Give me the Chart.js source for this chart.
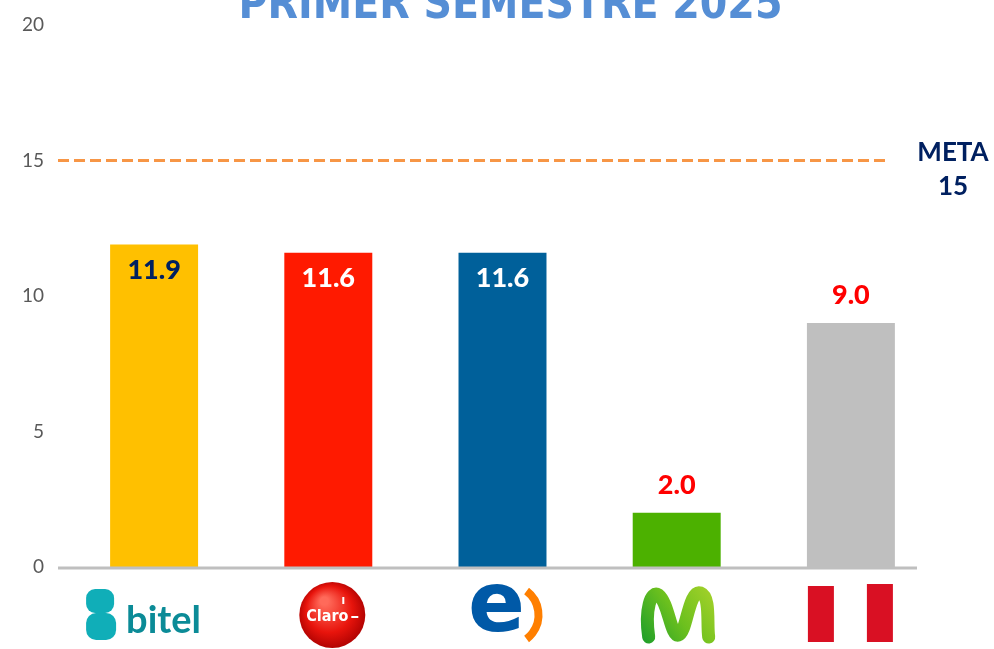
<!DOCTYPE html>
<html lang="es">
<head>
    <meta charset="UTF-8">
    <title>Primer semestre 2025</title>
    <script src="https://cdn.jsdelivr.net/npm/chart.js"></script>
    <style>
        html, body {
            margin: 0;
            padding: 0;
            background: #ffffff;
        }
        canvas {
            display: block;
        }
    </style>
</head>
<body>
    <canvas id="metaChart" width="994" height="649"></canvas>
    <script>
        // data
        const operators = ['bitel', 'Claro', 'entel', 'movistar', 'Perú'];
        const values = [11.9, 11.6, 11.6, 2.0, 9.0];
        const yTicks = [0, 5, 10, 15, 20];
        const metaValue = 15;
        const chartTitle = 'PRIMER SEMESTRE 2025';

        const barColors = ['#FFC000', '#FF1A00', '#00609A', '#4CB100', '#BFBFBF'];
        const labelColors = ['#002060', '#FFFFFF', '#FFFFFF', '#FF0000', '#FF0000'];
        const labelInside = [true, true, true, false, false];

        // title (cut at the top like the original), meta line, value labels
        const decorations = {
            id: 'decorations',
            afterDatasetsDraw(chart) {
                const ctx = chart.ctx;
                const area = chart.chartArea;
                const x = chart.scales.x;
                const y = chart.scales.y;
                ctx.save();

                // baseline
                ctx.strokeStyle = '#BFBFBF';
                ctx.lineWidth = 3;
                ctx.beginPath();
                ctx.moveTo(area.left - 9, y.getPixelForValue(0) + 1);
                ctx.lineTo(area.right - 21, y.getPixelForValue(0) + 1);
                ctx.stroke();

                // meta line
                const ym = y.getPixelForValue(metaValue);
                ctx.strokeStyle = '#F79646';
                ctx.lineWidth = 3;
                ctx.setLineDash([11, 5]);
                ctx.beginPath();
                ctx.moveTo(area.left - 9, ym);
                ctx.lineTo(area.right - 51, ym);
                ctx.stroke();
                ctx.setLineDash([]);

                ctx.fillStyle = '#002060';
                ctx.font = 'bold 26px Lato, sans-serif';
                ctx.textAlign = 'center';
                ctx.textBaseline = 'middle';
                ctx.fillText('META', area.right + 15, ym - 8);
                ctx.fillText(String(metaValue), area.right + 15, ym + 26);

                // values
                ctx.font = '900 27px Lato, sans-serif';
                values.forEach((v, i) => {
                    const px = x.getPixelForValue(i);
                    const py = y.getPixelForValue(v);
                    ctx.fillStyle = labelColors[i];
                    ctx.fillText(v.toFixed(1), px, labelInside[i] ? py + 26 : py - 28);
                });

                // title
                ctx.fillStyle = '#558ED5';
                ctx.font = 'bold 44px "Liberation Sans Narrow", "DejaVu Sans Condensed", sans-serif';
                ctx.textBaseline = 'alphabetic';
                ctx.fillText(chartTitle, (area.left + area.right) / 2 + 8, 18);

                ctx.restore();
            }
        };

        // simple drawn logos under each category
        const logos = {
            id: 'logos',
            afterDraw(chart) {
                const ctx = chart.ctx;
                const x = chart.scales.x;
                const cy = 615;
                ctx.save();

                // bitel
                let cx = x.getPixelForValue(0);
                ctx.fillStyle = '#10AEB8';
                roundRect(ctx, cx - 68, cy - 26, 28, 24, 9);
                roundRect(ctx, cx - 68, cy - 2, 30, 27, 10);
                ctx.fillStyle = '#0B8B97';
                ctx.font = 'bold 38px Lato, sans-serif';
                ctx.textAlign = 'left';
                ctx.textBaseline = 'alphabetic';
                ctx.fillText('bitel', cx - 28, cy + 18);

                // Claro
                cx = x.getPixelForValue(1) + 4;
                const g = ctx.createRadialGradient(cx - 8, cy - 14, 4, cx, cy, 36);
                g.addColorStop(0, '#FF6A5A');
                g.addColorStop(0.6, '#E8140C');
                g.addColorStop(1, '#A80000');
                ctx.fillStyle = g;
                ctx.beginPath();
                ctx.ellipse(cx, cy, 33, 33, 0, 0, Math.PI * 2);
                ctx.fill();
                ctx.fillStyle = '#FFFFFF';
                ctx.font = 'bold 16px "DejaVu Sans Condensed", sans-serif';
                ctx.textAlign = 'center';
                ctx.textBaseline = 'middle';
                ctx.fillText('Claro', cx - 5, cy + 2);
                ctx.fillRect(cx + 19, cy + 1, 7, 2);
                ctx.fillRect(cx + 10, cy - 18, 2, 7);

                // entel
                cx = x.getPixelForValue(2);
                ctx.fillStyle = '#0059A7';
                ctx.font = 'bold 84px "DejaVu Sans", sans-serif';
                ctx.textAlign = 'center';
                ctx.textBaseline = 'middle';
                ctx.fillText('e', cx - 6, cy - 6);
                ctx.strokeStyle = '#FF7F00';
                ctx.lineWidth = 8;
                ctx.beginPath();
                ctx.arc(cx + 6, cy, 30, -Math.PI / 3.4, Math.PI / 3.4);
                ctx.stroke();

                // movistar
                cx = x.getPixelForValue(3);
                const mg = ctx.createLinearGradient(cx - 36, cy + 25, cx + 36, cy - 25);
                mg.addColorStop(0, '#1E9E2A');
                mg.addColorStop(0.5, '#6CC01E');
                mg.addColorStop(1, '#A3D12A');
                ctx.strokeStyle = mg;
                ctx.lineWidth = 13;
                ctx.lineCap = 'round';
                ctx.beginPath();
                ctx.moveTo(cx - 28, cy + 22);
                ctx.bezierCurveTo(cx - 32, cy - 5, cx - 26, cy - 25, cx - 18, cy - 20);
                ctx.bezierCurveTo(cx - 8, cy - 12, cx - 6, cy + 22, cx + 2, cy + 20);
                ctx.bezierCurveTo(cx + 10, cy + 18, cx + 12, cy - 26, cx + 24, cy - 22);
                ctx.bezierCurveTo(cx + 34, cy - 18, cx + 30, cy + 8, cx + 32, cy + 22);
                ctx.stroke();

                // Perú
                cx = x.getPixelForValue(4);
                ctx.fillStyle = '#D91023';
                ctx.fillRect(cx - 43, cy - 29, 26, 56);
                ctx.fillRect(cx + 16, cy - 31, 26, 58);

                ctx.restore();
            }
        };

        function roundRect(ctx, x, y, w, h, r) {
            ctx.beginPath();
            ctx.moveTo(x + r, y);
            ctx.arcTo(x + w, y, x + w, y + h, r);
            ctx.arcTo(x + w, y + h, x, y + h, r);
            ctx.arcTo(x, y + h, x, y, r);
            ctx.arcTo(x, y, x + w, y, r);
            ctx.closePath();
            ctx.fill();
        }

        const ctx = document.getElementById('metaChart').getContext('2d');
        new Chart(ctx, {
            type: 'bar',
            data: {
                labels: operators,
                datasets: [{
                    data: values,
                    backgroundColor: barColors,
                    borderWidth: 0,
                    barPercentage: 0.505,
                    categoryPercentage: 1.0
                }]
            },
            options: {
                responsive: false,
                animation: false,
                events: [],
                layout: {
                    padding: { left: 0, right: 56, top: 25, bottom: 74 }
                },
                plugins: {
                    legend: { display: false },
                    tooltip: { enabled: false },
                    title: { display: false }
                },
                scales: {
                    x: {
                        grid: { display: false },
                        border: { display: false },
                        ticks: { display: false }
                    },
                    y: {
                        min: 0,
                        max: 20,
                        afterBuildTicks(scale) {
                            scale.ticks = yTicks.map(v => ({ value: v }));
                        },
                        afterFit(scale) {
                            scale.width = 67;
                            // tick padding is only meant to be horizontal here
                            scale.paddingTop = 11;
                            scale.paddingBottom = 11;
                        },
                        grid: { display: false, drawTicks: false },
                        border: { display: false },
                        ticks: {
                            padding: 23,
                            color: '#595959',
                            font: { family: 'Lato, sans-serif', size: 19 }
                        }
                    }
                }
            },
            plugins: [decorations, logos]
        });
    </script>
</body>
</html>
